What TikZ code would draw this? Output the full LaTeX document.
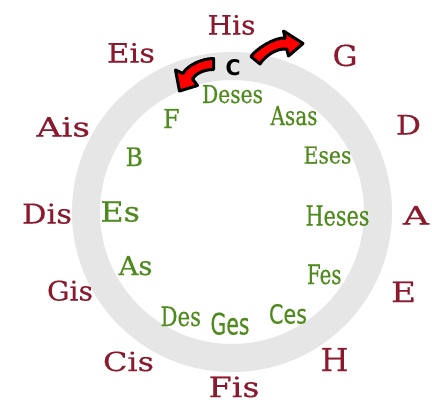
\documentclass[tikz,border=0pt]{standalone}
\usepackage{fontspec}
\setmainfont{DejaVu Serif}[FakeBold=0.4]
\newfontfamily\sansf{DejaVu Sans}[FakeBold=0.4]
\newfontfamily\sansbold{DejaVu Sans Bold}
\definecolor{lblred}{RGB}{139,26,46}
\definecolor{lblgreen}{RGB}{78,138,28}
\definecolor{ringgray}{RGB}{230,230,230}
\newcommand\fitbox[3]{\resizebox{#1pt}{#2pt}{#3}}
\tikzset{
  lbl/.style={anchor=base west, inner sep=0pt, outer sep=0pt, font=\fontsize{24}{24}\selectfont},
  redlbl/.style={lbl, text=lblred},
  greenlbl/.style={lbl, text=lblgreen},
  greensans/.style={greenlbl, font=\sansf\fontsize{24}{24}\selectfont},
  bigarrow/.style={fill=red, draw=black, line width=3pt, line join=round},
}
\begin{document}
\begin{tikzpicture}[x=1pt,y=-1pt]
\useasboundingbox (0,0) rectangle (432,402);
\fill[white] (0,0) rectangle (432,402);
% ring
\coordinate (ctr) at (232,212);
\draw[ringgray, line width=28pt] (ctr) circle[radius=146pt];
% arrows
\filldraw[bigarrow] (213.5,58.5) .. controls (200,58.5) and (186,67) .. (183,73.5)
  -- (175.5,70) -- (179.5,91) -- (197.5,85.5) -- (192.5,79)
  .. controls (194.5,75) and (202,69.5) .. (213.5,69.5) -- cycle;
\filldraw[bigarrow] (251,56.5) .. controls (255.5,49.5) and (274.5,37) .. (285.2,38)
  -- (283.5,31) -- (303,43.5) -- (288.5,56) -- (286.8,49)
  .. controls (276,48) and (264.5,56.5) .. (260,64) -- cycle;
\node[anchor=base, inner sep=0pt, font=\sansbold\fontsize{23}{23}\selectfont] (c) at (233,75.5) {\resizebox{15pt}{16pt}{C}};
% red labels
\node[redlbl] (his) at (207.5,34.5) {\fitbox{48}{19.5}{His}};
\node[redlbl] (eis) at (107,62.5) {\fitbox{48}{19.5}{Eis}};
\node[redlbl] (g) at (332.5,66) {\fitbox{25}{21.5}{G}};
\node[redlbl] (d) at (396,134.5) {\fitbox{25}{19.5}{D}};
\node[redlbl] (a) at (403,224.5) {\fitbox{26}{18.5}{A}};
\node[redlbl] (e) at (391,302) {\fitbox{25}{20.5}{E}};
\node[redlbl] (h) at (320.5,371) {\fitbox{28}{23}{H}};
\node[redlbl] (fis) at (208.5,397) {\fitbox{51}{20.5}{Fis}};
\node[redlbl] (cis) at (103,371) {\fitbox{51}{19.5}{Cis}};
\node[redlbl] (gis) at (47,300.5) {\fitbox{46}{20}{Gis}};
\node[redlbl] (dis) at (22,223.5) {\fitbox{50}{20}{Dis}};
\node[redlbl] (ais) at (36.5,136.5) {\fitbox{53.5}{19.5}{Ais}};
% green labels
\node[greenlbl] (deses) at (202,103) {\fitbox{61}{18}{Deses}};
\node[greenlbl] (asas) at (270.5,125) {\fitbox{47}{19}{Asas}};
\node[greenlbl] (eses) at (303.5,163.5) {\fitbox{48}{17}{Eses}};
\node[greenlbl] (heses) at (305.5,225.5) {\fitbox{64}{20}{Heses}};
\node[greenlbl] (fes) at (307,284) {\fitbox{34.5}{19.5}{Fes}};
\node[greensans] (ces) at (269,323.5) {\fitbox{38}{19.5}{Ces}};
\node[greensans] (ges) at (210.5,334.5) {\fitbox{39}{22}{Ges}};
\node[greenlbl] (des) at (160.5,326) {\fitbox{40.5}{19.5}{Des}};
\node[greenlbl] (as) at (118.5,275) {\fitbox{34}{19}{As}};
\node[greenlbl] (es) at (100.5,221.5) {\fitbox{39.5}{20}{Es}};
\node[greenlbl] (b) at (125.5,166) {\fitbox{17.5}{18.5}{B}};
\node[greenlbl] (f) at (163,128) {\fitbox{16.5}{19}{F}};
\end{tikzpicture}
\end{document}
